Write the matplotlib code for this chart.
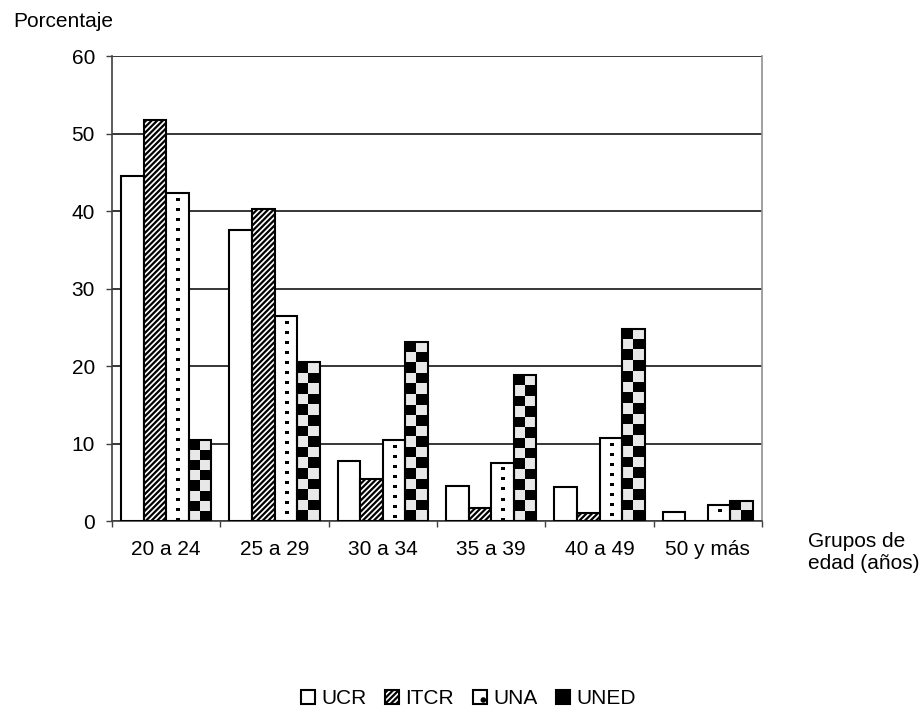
import numpy as np
import matplotlib.pyplot as plt
from matplotlib.patches import Patch

plt.rcParams['font.family'] = ['Liberation Sans', 'DejaVu Sans']
plt.rcParams['hatch.linewidth'] = 1.6

grupos = ["20 a 24", "25 a 29", "30 a 34", "35 a 39", "40 a 49", "50 y más"]
ucr = [44.5, 37.6, 7.8, 4.5, 4.4, 1.2]
itcr = [51.7, 40.2, 5.4, 1.7, 1.0, 0.0]
una = [42.3, 26.4, 10.4, 7.5, 10.7, 2.1]
uned = [10.4, 20.5, 23.1, 18.8, 24.8, 2.6]
series = ["UCR", "ITCR", "UNA", "UNED"]

fig = plt.figure(figsize=(9.22, 7.08), dpi=100)
ax = fig.add_axes([0.1215, 0.2641, 0.705, 0.6568])
ax.set_xlim(-0.5, len(grupos) - 0.5)
ax.set_ylim(0, 60)
px_per_unit = 0.6568 * 708 / 60  # vertical pixels per percent

x = np.arange(len(grupos))
w = 0.208
ax.bar(x - 1.5 * w, ucr, w, color="white", edgecolor="black", lw=1.5, zorder=3)
ax.bar(x - 0.5 * w, itcr, w, color="white", edgecolor="black", lw=1.5,
       hatch="//////", zorder=3)
b3 = ax.bar(x + 0.5 * w, una, w, color="none", edgecolor="black", lw=1.5,
            zorder=4)
b4 = ax.bar(x + 1.5 * w, uned, w, color="none", edgecolor="black", lw=1.5,
            zorder=4)


def fill_texture(rect, kind):
    # pattern fill drawn as a small image clipped to the bar
    x0, y0 = rect.get_x(), rect.get_y()
    x1, y1 = x0 + rect.get_width(), y0 + rect.get_height()
    hpx = max(1, int(round(rect.get_height() * px_per_unit)))
    if kind == "checker":
        rows = max(1, int(round(hpx / 10.5)))
        ii, jj = np.indices((rows, 2))
        tex = ((ii + jj + 1) % 2).astype(float)
        vmin = -0.1
    else:
        tex = np.zeros((hpx, 22))
        for r in range(5, hpx - 2, 10):
            tex[r:r + 3, 10:13] = 1.0
        vmin = 0
    im = ax.imshow(tex, cmap="gray_r", extent=(x0, x1, y0, y1),
                   aspect="auto", interpolation="nearest", zorder=3.5,
                   vmin=vmin, vmax=1, origin="upper")
    im.set_clip_path(rect)


for r in b3:
    fill_texture(r, "dots")
for r in b4:
    fill_texture(r, "checker")
ax.set_xlim(-0.5, len(grupos) - 0.5)
ax.set_ylim(0, 60)

ax.set_yticks(range(0, 61, 10))
ax.yaxis.grid(True, color="black", lw=1.1, zorder=0)
ax.set_xticks(x)
ax.set_xticklabels(grupos, fontsize=15)
ax.set_xticks(np.arange(-0.5, len(grupos), 1), minor=True)
ax.tick_params(axis="x", which="major", length=0, pad=14)
ax.tick_params(axis="x", which="minor", length=4, width=1, color="#404040")
ax.tick_params(axis="y", labelsize=15, length=4.3, width=1, color="#404040",
               pad=8)
ax.spines["top"].set_visible(False)
ax.spines["left"].set_color("#404040")
ax.spines["bottom"].set_color("#404040")
ax.spines["right"].set_color("#909090")
for s in ax.spines.values():
    s.set_linewidth(1.2)

fig.text(0.014, 0.969, "Porcentaje", fontsize=15, va="center")
fig.text(0.876, 0.219, "Grupos de\nedad (años)", fontsize=15, va="center",
         linespacing=1.2)

handles = [
    Patch(facecolor="white", edgecolor="black", lw=1.5),
    Patch(facecolor="white", edgecolor="black", lw=1.5, hatch="//////"),
    Patch(facecolor="white", edgecolor="black", lw=1.5, hatch="."),
    Patch(facecolor="black", edgecolor="black", lw=1.5),
]
fig.legend(handles, series, loc="center", bbox_to_anchor=(0.508, 0.013),
           ncol=4, frameon=False, fontsize=15, handlelength=0.67,
           handleheight=0.67, handletextpad=0.3, columnspacing=0.9,
           borderpad=0, borderaxespad=0)

fig.savefig("out.png", dpi=100)
